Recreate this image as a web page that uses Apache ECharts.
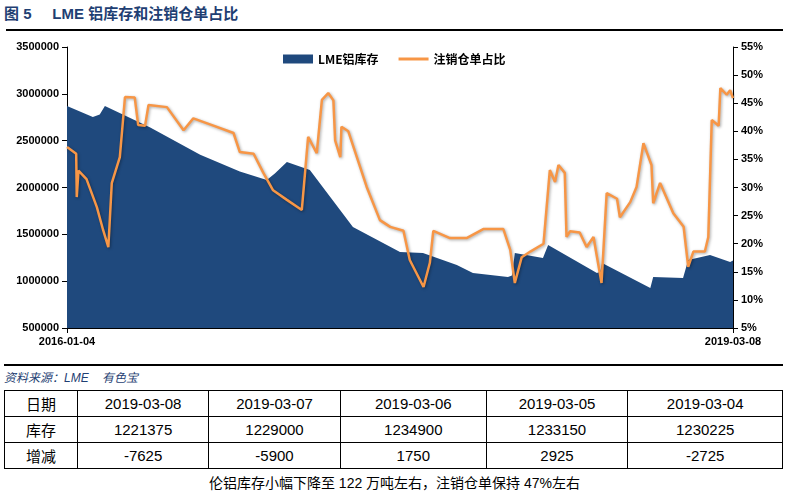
<!DOCTYPE html>
<html><head><meta charset="utf-8">
<script src="https://cdn.jsdelivr.net/npm/echarts@6/dist/echarts.min.js"></script>
<style>
body{margin:0;width:789px;height:495px;background:#fff;position:relative;font-family:"Liberation Sans","Noto Sans CJK SC",sans-serif;overflow:hidden}
#title{position:absolute;left:4px;top:2px;font-size:15px;font-weight:bold;color:#1f3f73;white-space:pre}
#l1{position:absolute;left:6px;top:29px;width:777px;height:2px;background:#000}
#chart{position:absolute;left:0;top:0;width:789px;height:360px}
#l2{position:absolute;left:4px;top:364px;width:779px;height:2px;background:#000}
#src{position:absolute;left:4px;top:368px;font-size:12px;font-style:italic;color:#1f3f73;white-space:pre}
table{position:absolute;left:4px;top:390px;width:779px;border-collapse:collapse;font-size:15px;color:#000}
td{border:1px solid #000;text-align:center;height:25px;padding:0}
#cap{position:absolute;left:0;width:789px;top:472px;text-align:center;font-size:14px}
</style></head><body>
<div id="title">图 5     LME 铝库存和注销仓单占比</div>
<div id="l1"></div>
<div id="chart"></div>
<div id="l2"></div>
<div id="src">资料来源：LME    有色宝</div>
<table id="tb"></table>
<div id="cap">伦铝库存小幅下降至 122 万吨左右，注销仓单保持 47%左右</div>
<script>
const startDate='2016-01-04', endDate='2019-03-08';
// day offsets from 2016-01-04
const invDays=[0,45,57,66,145,232,301,348,362,383,423,498,580,620,679,707,768,775,780,829,838,923,929,932,1016,1021,1073,1082,1120,1155,1160];
const invVals=[2870000,2753000,2780000,2870000,2640000,2350000,2170000,2080000,2150000,2272000,2187000,1578000,1311000,1300000,1172000,1087000,1044000,1060000,1300000,1247000,1386000,1087000,1100000,1194000,927000,1044000,1034000,1226000,1279000,1205000,1221375];
const ratioDays=[0,16,17,20,34,52,63,72,78,92,101,118,124,136,142,174,203,220,255,290,301,325,342,359,383,409,420,435,444,455,464,467,476,478,490,522,545,563,586,597,621,632,638,667,696,725,760,772,780,792,807,830,836,841,850,856,867,870,876,893,905,917,931,940,958,963,981,992,1004,1018,1021,1033,1056,1074,1082,1091,1111,1117,1123,1135,1138,1149,1155,1160];
const ratioVals=[37.2,36,28.3,33,31.5,26.5,22.4,19.4,30.8,35.4,46.1,46,41.1,41,44.7,44.3,40.2,42.3,41,39.7,36.3,36,32.6,29.5,27.8,26,39,36.1,45.6,46.8,45.5,38.4,35.4,40.8,40,30.1,24.2,23,22.3,17.1,12.3,16.6,22.3,21,21,22.6,22.6,18.9,13,17.6,18.6,20,27.2,33.1,31,34,32.6,21.2,22.2,22,19.4,21.2,13,29,28,24.7,27.4,30.1,37.9,34,27.2,30.8,25.4,23,15.9,18.6,18.6,21.2,42,41,47.7,46.5,47.3,45.9];
const tblDates=['2019-03-08','2019-03-07','2019-03-06','2019-03-05','2019-03-04'];
const tblInv=['1221375','1229000','1234900','1233150','1230225'];
const tblChg=['-7625','-5900','1750','2925','-2725'];
const colW=[73,131,132,146,142,155];
let h='<tr><td style="width:'+colW[0]+'px">日期</td>'+tblDates.map((d,i)=>'<td style="width:'+colW[i+1]+'px">'+d+'</td>').join('')+'</tr>';
h+='<tr><td>库存</td>'+tblInv.map(v=>'<td>'+v+'</td>').join('')+'</tr>';
h+='<tr><td>增减</td>'+tblChg.map(v=>'<td>'+v+'</td>').join('')+'</tr>';
document.getElementById('tb').innerHTML=h;

const lab={color:'#000',fontWeight:'bold',fontSize:11,fontFamily:'Liberation Sans'};
const c=echarts.init(document.getElementById('chart'));
c.setOption({
  animation:false,
  grid:{left:67,right:56,top:47,bottom:32},
  legend:{top:48,left:278,itemGap:20,itemWidth:30,itemHeight:9,textStyle:{fontWeight:'bold',fontSize:12,color:'#000',fontFamily:'Noto Sans CJK SC'},
    data:[{name:'LME铝库存',icon:'rect'},{name:'注销仓单占比',icon:'path://M0,0h30v3h-30z'}]},
  xAxis:{type:'value',min:0,max:1160,interval:1160,splitLine:{show:false},
    axisLine:{lineStyle:{color:'#000'}},axisTick:{show:true,lineStyle:{color:'#000'}},
    axisLabel:Object.assign({},lab,{formatter:v=>v===0?startDate:endDate,align:'center'})},
  yAxis:[
    {type:'value',min:500000,max:3500000,interval:500000,splitLine:{show:false},
     axisLine:{show:true,lineStyle:{color:'#000'}},axisTick:{show:true,lineStyle:{color:'#000'}},axisLabel:Object.assign({},lab,{formatter:v=>String(v)})},
    {type:'value',min:5,max:55,interval:5,splitLine:{show:false},
     axisLine:{show:true,lineStyle:{color:'#000'}},axisTick:{show:true,lineStyle:{color:'#000'}},axisLabel:Object.assign({},lab,{formatter:'{value}%'})}
  ],
  series:[
    {name:'LME铝库存',type:'line',data:invDays.map((d,i)=>[d,invVals[i]]),symbol:'none',
     lineStyle:{width:0},areaStyle:{color:'#1f497d',opacity:1},itemStyle:{color:'#1f497d'}},
    {name:'注销仓单占比',type:'line',yAxisIndex:1,data:ratioDays.map((d,i)=>[d,ratioVals[i]]),symbol:'none',
     lineStyle:{width:2.5,color:'#f79646',shadowColor:'rgba(0,0,0,0.35)',shadowBlur:3,shadowOffsetX:1,shadowOffsetY:1},itemStyle:{color:'#f79646'}}
  ]
});
</script></body></html>
